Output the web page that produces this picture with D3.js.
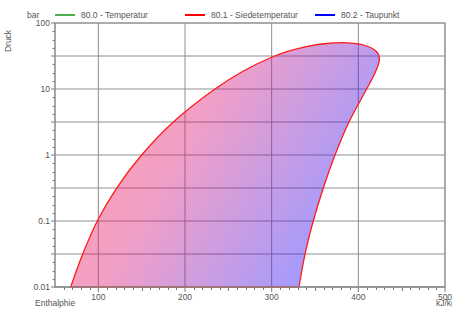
<!DOCTYPE html>
<html>
<head>
<meta charset="utf-8">
<script src="https://cdn.jsdelivr.net/npm/d3@7"></script>
<style>
    body { margin: 0; background: #fff; }
    svg { display: block; font-family: "Liberation Sans", Arial, sans-serif; }
</style>
</head>
<body>
<svg id="chart" width="452" height="309"></svg>
<script>
// Siedelinie (h in kJ/kg, p in bar), von unten bis zum kritischen Punkt
const liquidH = [68.1, 82.0, 98.8, 121.2, 150.0, 186.5, 234.6, 266.9, 300.0, 321.2, 344.2, 363.8, 382.6];
const liquidP = [0.01, 0.0316, 0.1, 0.316, 1, 3.16, 10, 18.6, 30.3, 38.0, 45.1, 48.9, 50.4];
// Taulinie, vom kritischen Punkt nach unten
const vaporH = [400.0, 407.7, 418.1, 423.3, 424.2, 422.1, 417.5, 409.6, 389.2, 373.1, 359.6, 348.0, 338.5, 331.5];
const vaporP = [48.1, 45.6, 39.6, 33.3, 27.5, 21.5, 15.7, 10, 3.16, 1, 0.316, 0.1, 0.0316, 0.01];

const xTicks = [100, 200, 300, 400, 500];
const yTicks = [0.01, 0.1, 1, 10, 100];
const yTickLabels = ["0.01", "0.1", "1", "10", "100"];

const legendNames = ["80.0 - Temperatur", "80.1 - Siedetemperatur", "80.2 - Taupunkt"];
const legendColors = ["#4caf50", "#ff0000", "#0000ff"];

var margin = {left: 55, right: 7, top: 23, bottom: 22};
var width = 452, height = 309;

var svg = d3.select("#chart");
var x = d3.scaleLinear().domain([50, 500]).range([margin.left, width - margin.right]);
var y = d3.scaleLog().domain([0.01, 100]).range([height - margin.bottom, margin.top]);

var x0 = x.range()[0], x1 = x.range()[1];
var y0 = y.range()[0], y1 = y.range()[1];

// fill gradient
var defs = svg.append("defs");
var grad = defs.append("linearGradient")
    .attr("id", "domeFill")
    .attr("x1", 0).attr("y1", 0).attr("x2", 1).attr("y2", 0.45);
grad.append("stop").attr("offset", "0%").attr("stop-color", "#ff1020").attr("stop-opacity", 0.4);
grad.append("stop").attr("offset", "45%").attr("stop-color", "#e01070").attr("stop-opacity", 0.4);
grad.append("stop").attr("offset", "100%").attr("stop-color", "#2010ff").attr("stop-opacity", 0.42);

// grid lines
var minorY = [], midY = [];
yTicks.slice(0, -1).forEach(function (t) {
    for (var k = 1; k < 8; k++) {
        var v = t * Math.pow(10, k / 8);
        if (k == 4) midY.push(v); else minorY.push(v);
    }
});

var grid = svg.append("g").attr("class", "grid");
grid.selectAll(".hgrid")
    .data(yTicks.concat(midY))
    .enter().append("line")
    .attr("x1", x0).attr("x2", x1)
    .attr("y1", d => y(d)).attr("y2", d => y(d))
    .attr("stroke", "#8f8f8f").attr("stroke-width", 1);
grid.selectAll(".vgrid")
    .data(xTicks)
    .enter().append("line")
    .attr("y1", y0).attr("y2", y1)
    .attr("x1", d => x(d)).attr("x2", d => x(d))
    .attr("stroke", "#8f8f8f").attr("stroke-width", 1);

// two-phase dome
var pts = [];
liquidH.forEach((h, i) => pts.push([h, liquidP[i]]));
vaporH.forEach((h, i) => pts.push([h, vaporP[i]]));

var line = d3.line()
    .x(d => x(d[0]))
    .y(d => y(d[1]))
    .curve(d3.curveCatmullRom.alpha(0.5));

svg.append("path")
    .attr("d", line(pts) + "Z")
    .attr("fill", "url(#domeFill)")
    .attr("stroke", "#ff1a1a")
    .attr("stroke-width", 1.3)
    .attr("stroke-linejoin", "round");

// axes
var axisColor = "#7a7a7a";
var textColor = "#555";
var fs = 8.5;
var axes = svg.append("g");
axes.append("line").attr("x1", x0).attr("x2", x0).attr("y1", y0 + 0.5).attr("y2", y1)
    .attr("stroke", axisColor);
axes.append("line").attr("x1", x0).attr("x2", x1).attr("y1", y0).attr("y2", y0)
    .attr("stroke", axisColor);

// y ticks
axes.selectAll(".ymaj").data(yTicks.concat(midY)).enter().append("line")
    .attr("x1", x0 - 4).attr("x2", x0)
    .attr("y1", d => y(d)).attr("y2", d => y(d))
    .attr("stroke", axisColor);
axes.selectAll(".ymin").data(minorY).enter().append("line")
    .attr("x1", x0 - 2.5).attr("x2", x0)
    .attr("y1", d => Math.round(y(d)) + 0.5).attr("y2", d => Math.round(y(d)) + 0.5)
    .attr("stroke", axisColor);
axes.selectAll(".ylab").data(yTicks).enter().append("text")
    .attr("x", x0 - 5).attr("y", d => y(d) + 3)
    .attr("text-anchor", "end")
    .attr("font-size", fs).attr("fill", textColor)
    .text((d, i) => yTickLabels[i]);

// x ticks
var minorX = d3.range(60, 500, 10).filter(d => d % 100 != 0);
axes.selectAll(".xmin").data(minorX).enter().append("line")
    .attr("x1", d => Math.round(x(d)) + 0.5).attr("x2", d => Math.round(x(d)) + 0.5)
    .attr("y1", y0).attr("y2", d => y0 + (d % 50 == 0 ? 4 : 3))
    .attr("stroke", axisColor);
axes.selectAll(".xmaj").data(xTicks).enter().append("line")
    .attr("x1", d => x(d)).attr("x2", d => x(d))
    .attr("y1", y0).attr("y2", y0 + 5)
    .attr("stroke", axisColor);
axes.selectAll(".xlab").data(xTicks).enter().append("text")
    .attr("x", d => x(d)).attr("y", y0 + 13)
    .attr("text-anchor", "middle")
    .attr("font-size", fs).attr("fill", textColor)
    .text(d => d);

// frame
svg.append("rect")
    .attr("x", x0).attr("y", y1).attr("width", x1 - x0).attr("height", y0 - y1)
    .attr("fill", "none").attr("stroke", "#8f8f8f");

// axis titles
svg.append("text").attr("x", 35).attr("y", 306)
    .attr("font-size", fs).attr("fill", textColor).text("Enthalphie");
svg.append("text").attr("x", 436).attr("y", 306)
    .attr("font-size", fs).attr("fill", textColor).text("kJ/kg");
svg.append("text").attr("transform", "translate(11,41) rotate(-90)")
    .attr("text-anchor", "middle")
    .attr("font-size", fs).attr("fill", textColor).text("Druck");
svg.append("text").attr("x", 27).attr("y", 18)
    .attr("font-size", fs).attr("fill", textColor).text("bar");

// legend
var legendX = [55, 185, 315];
var lg = svg.selectAll(".legend").data(legendNames).enter().append("g")
    .attr("transform", (d, i) => "translate(" + legendX[i] + ",15)");
lg.append("line").attr("x1", 0).attr("x2", 20).attr("y1", 0).attr("y2", 0)
    .attr("stroke", (d, i) => legendColors[i]).attr("stroke-width", 2);
lg.append("text").attr("x", 26).attr("y", 3)
    .attr("font-size", fs).attr("fill", textColor).text(d => d);
</script>
</body>
</html>
